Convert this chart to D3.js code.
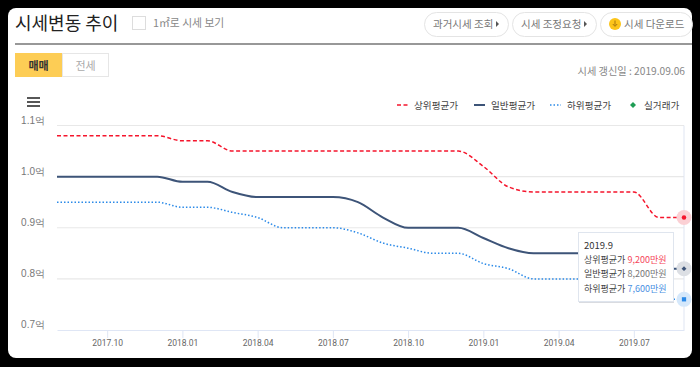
<!DOCTYPE html>
<html>
<head>
<meta charset="utf-8">
<script src="https://cdn.jsdelivr.net/npm/d3@7"></script>
<style>
  html, body { margin: 0; padding: 0; background: #000; overflow: hidden; }
  svg { display: block; font-family: "Noto Sans CJK KR", "Noto Sans", sans-serif; }
</style>
</head>
<body>
<svg width="700" height="367"></svg>
<script>
const months = ["2017.08","2017.09","2017.10","2017.11","2017.12",
  "2018.01","2018.02","2018.03","2018.04","2018.05","2018.06","2018.07","2018.08","2018.09","2018.10","2018.11","2018.12",
  "2019.01","2019.02","2019.03","2019.04","2019.05","2019.06","2019.07","2019.08","2019.09"];
const upper = [1.08,1.08,1.08,1.08,1.08, 1.07,1.07,1.05,1.05,1.05,1.05,1.05,1.05,1.05,1.05,1.05,1.05, 1.02,0.98,0.97,0.97,0.97,0.97,0.97,0.92,0.92];
const general = [1.00,1.00,1.00,1.00,1.00, 0.99,0.99,0.97,0.96,0.96,0.96,0.96,0.95,0.92,0.90,0.90,0.90, 0.88,0.86,0.85,0.85,0.85,0.85,0.85,0.82,0.82];
const lower = [0.95,0.95,0.95,0.95,0.95, 0.94,0.94,0.93,0.92,0.90,0.90,0.90,0.89,0.87,0.86,0.85,0.85, 0.83,0.82,0.80,0.80,0.80,0.80,0.80,0.76,0.76];
const yTicks = [0.7,0.8,0.9,1.0,1.1];
const xTicks = ["2017.10","2018.01","2018.04","2018.07","2018.10","2019.01","2019.04","2019.07"];
const legendNames = ["상위평균가","일반평균가","하위평균가","실거래가"];
const tipPrices = ["9,200만원","8,200만원","7,600만원"];

const svg = d3.select("svg");

// card with the black frame around it
svg.append("rect").attr("x", 8).attr("y", 8).attr("width", 684).attr("height", 350)
  .attr("rx", 8).attr("fill", "#fff");

// header
svg.append("text").attr("x", 15).attr("y", 30).attr("font-size", 18).attr("fill", "#222").text("시세변동 추이");
svg.append("rect").attr("x", 132.5).attr("y", 16.5).attr("width", 13).attr("height", 13)
  .attr("fill", "#fff").attr("stroke", "#ddd");
svg.append("text").attr("x", 153).attr("y", 27).attr("font-size", 10.8).attr("fill", "#888").text("1㎡로 시세 보기");
svg.append("line").attr("x1", 15).attr("x2", 692).attr("y1", 44).attr("y2", 44).attr("stroke", "#333").attr("stroke-width", 1.2);

const buttons = [
  {x: 424, w: 84, label: "과거시세 조회", tx: 433, arrow: 496},
  {x: 512, w: 84, label: "시세 조정요청", tx: 521, arrow: 584},
  {x: 600, w: 92, label: "시세 다운로드", tx: 624, arrow: null}
];
buttons.forEach(b => {
  svg.append("rect").attr("x", b.x + .5).attr("y", 12.5).attr("width", b.w).attr("height", 24).attr("rx", 12)
    .attr("fill", "#fff").attr("stroke", "#e4e4e4");
  svg.append("text").attr("x", b.tx).attr("y", 28).attr("font-size", 10.5).attr("fill", "#777").text(b.label);
  if (b.arrow) svg.append("path").attr("d", `M${b.arrow},21 l3,3 l-3,3 z`).attr("fill", "#555");
});
svg.append("circle").attr("cx", 615).attr("cy", 24).attr("r", 6).attr("fill", "#fcc419");
svg.append("path").attr("d", "M615,20.5 v5 M612.8,24 l2.2,2.4 l2.2,-2.4").attr("fill", "none").attr("stroke", "#a9770c").attr("stroke-width", 1);

// tabs
svg.append("rect").attr("x", 15).attr("y", 53).attr("width", 47).attr("height", 24).attr("fill", "#fdcd55");
svg.append("text").attr("x", 38.5).attr("y", 70).attr("text-anchor", "middle").attr("font-size", 11).attr("font-weight", 700).attr("fill", "#333").text("매매");
svg.append("rect").attr("x", 62.5).attr("y", 53.5).attr("width", 46).attr("height", 23).attr("fill", "#fff").attr("stroke", "#e6e6e6");
svg.append("text").attr("x", 85.5).attr("y", 70).attr("text-anchor", "middle").attr("font-size", 11).attr("fill", "#aaa").text("전세");
svg.append("text").attr("x", 685).attr("y", 75).attr("text-anchor", "end").attr("font-size", 10.2).attr("fill", "#888").text("시세 갱신일 : 2019.09.06");

// hamburger menu
[98, 102, 106].forEach(y => {
  svg.append("line").attr("x1", 27).attr("x2", 40).attr("y1", y).attr("y2", y).attr("stroke", "#444").attr("stroke-width", 1.8);
});

// scales
const xScale = d3.scalePoint().domain(months).range([57, 684]);
const yScale = d3.scaleLinear().domain([0.7, 1.1]).range([330, 125.5]);

// grid
svg.append("g").selectAll("line").data(yTicks.slice(1)).join("line")
  .attr("x1", 57).attr("x2", 684)
  .attr("y1", d => yScale(d)).attr("y2", d => yScale(d))
  .attr("stroke", "#e8e8e8").attr("stroke-width", 1.2);
svg.append("line").attr("x1", 684).attr("x2", 684).attr("y1", yScale(1.1)).attr("y2", yScale(0.7))
  .attr("stroke", "#dfe5f2");

// axes
const xAxis = d3.axisBottom(xScale).tickValues(xTicks).tickSize(8).tickSizeOuter(0).tickPadding(2);
const xG = svg.append("g").attr("transform", "translate(0,330)").call(xAxis);
xG.select(".domain").attr("stroke", "#dfe6f5");
xG.selectAll(".tick line").attr("stroke", "#dfe6f5");
xG.selectAll("text").attr("font-size", 8.5).attr("fill", "#666").attr("font-family", "Roboto, sans-serif");

const yAxis = d3.axisLeft(yScale).tickValues(yTicks).tickSize(0).tickPadding(12).tickFormat(d => d.toFixed(1) + "억");
const yG = svg.append("g").attr("transform", "translate(57,0)").call(yAxis);
yG.select(".domain").remove();
yG.selectAll("text").attr("font-size", 10).attr("fill", "#777").attr("dy", "-0.25em");

// series
const lineGen = d3.line().x((d, i) => xScale(months[i])).y(d => yScale(d)).curve(d3.curveMonotoneX);
const series = [
  {vals: upper, color: "#f5152c", width: 1.5, dash: "4,2.5", halo: "#fbd0d4"},
  {vals: general, color: "#3d5478", width: 2, dash: null, halo: "#dcdfe4"},
  {vals: lower, color: "#2b8ae8", width: 1.5, dash: "1.5,2", halo: "#d5e8fb"}
];
series.forEach(s => {
  svg.append("path").datum(s.vals).attr("d", lineGen).attr("fill", "none")
    .attr("stroke", s.color).attr("stroke-width", s.width).attr("stroke-dasharray", s.dash);
});

// hover markers at the last month
const lastX = xScale(months[months.length - 1]);
series.forEach((s, i) => {
  const y = yScale(s.vals[s.vals.length - 1]);
  svg.append("circle").attr("cx", lastX).attr("cy", y).attr("r", 7.5).attr("fill", s.halo);
  const type = [d3.symbolCircle, d3.symbolSquare, d3.symbolSquare][i];
  const size = [16, 12, 18][i];
  svg.append("path").attr("transform", `translate(${lastX},${y}) rotate(${i == 1 ? 45 : 0})`)
    .attr("d", d3.symbol().type(type).size(size)).attr("fill", s.color);
});

// legend
const legendX = [397, 474, 550, 630];
legendNames.forEach((name, i) => {
  const x = legendX[i], y = 105;
  if (i < 3) {
    svg.append("line").attr("x1", x).attr("x2", x + 11).attr("y1", y).attr("y2", y)
      .attr("stroke", series[i].color).attr("stroke-width", series[i].width)
      .attr("stroke-dasharray", series[i].dash);
  } else {
    svg.append("path").attr("transform", `translate(${x + 3},${y}) rotate(45)`)
      .attr("d", d3.symbol().type(d3.symbolSquare).size(18)).attr("fill", "#1f9d55");
  }
  svg.append("text").attr("x", i < 3 ? x + 17 : x + 14).attr("y", 109).attr("font-size", 9.6).attr("fill", "#444").text(name);
});

// tooltip
const tip = svg.append("g").attr("transform", "translate(578,232)");
tip.append("rect").attr("x", 1).attr("y", 1).attr("width", 95).attr("height", 70).attr("fill", "#b9bec6").attr("opacity", .55);
tip.append("rect").attr("x", .5).attr("y", .5).attr("width", 95).attr("height", 69).attr("fill", "#fff").attr("stroke", "#dfe5ee");
tip.append("text").attr("x", 6).attr("y", 17).attr("font-size", 9.5).attr("fill", "#333").text(months[months.length - 1].replace(".0", "."));
const tipColors = ["#f5475a", "#777", "#4a90e2"];
tipPrices.forEach((p, i) => {
  const t = tip.append("text").attr("x", 6).attr("y", 31 + i * 14.3).attr("font-size", 9);
  t.append("tspan").attr("fill", "#444").text(legendNames[i]);
  t.append("tspan").attr("dx", 2).attr("fill", tipColors[i]).text(p);
});
</script>
</body>
</html>
